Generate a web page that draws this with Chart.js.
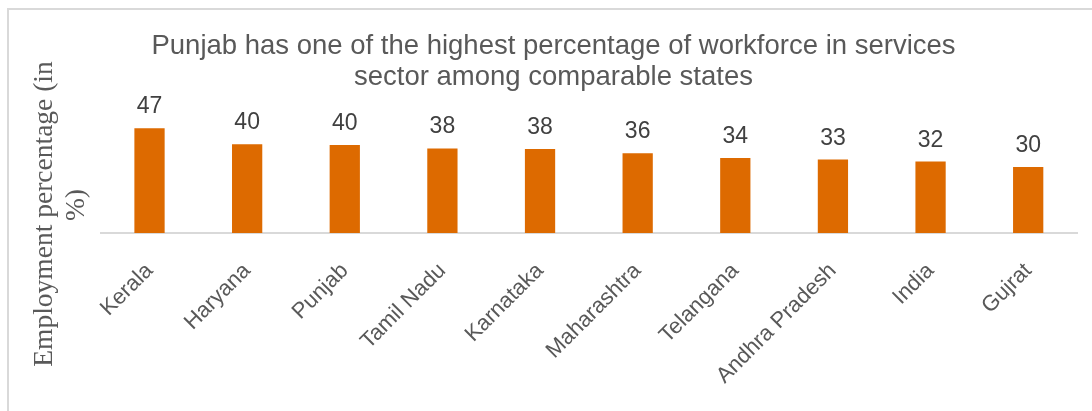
<!DOCTYPE html>
<html>
<head>
<meta charset="utf-8">
<script src="https://cdn.jsdelivr.net/npm/chart.js@4.4.1/dist/chart.umd.min.js"></script>
<style>
  html, body { margin: 0; padding: 0; background: #ffffff; }
  #frame { position: absolute; left: 7px; top: 8px; width: 2000px; height: 2000px;
           border-left: 2px solid #d9d9d9; border-top: 2px solid #d9d9d9; }
  #wrap { position: absolute; left: 0; top: 0; width: 1092px; height: 411px; }
</style>
</head>
<body>
<div id="frame"></div>
<div id="wrap"><canvas id="c" width="1092" height="411"></canvas></div>
<script>
const categories = ["Kerala", "Haryana", "Punjab", "Tamil Nadu", "Karnataka",
                    "Maharashtra", "Telangana", "Andhra Pradesh", "India", "Gujrat"];
const employmentPct = [47.0, 39.8, 39.5, 37.9, 37.6, 35.7, 33.6, 32.9, 32.0, 29.6];
const titleLines = ["Punjab has one of the highest percentage of workforce in services",
                    "sector among comparable states"];
const yTitleLines = ["Employment percentage (in", "%)"];

const valueLabels = {
  id: 'valueLabels',
  afterDatasetsDraw(chart) {
    const ctx = chart.ctx;
    const meta = chart.getDatasetMeta(0);
    ctx.save();
    ctx.font = "23px 'Liberation Sans', Arial, sans-serif";
    ctx.fillStyle = '#404040';
    ctx.textAlign = 'center';
    ctx.textBaseline = 'alphabetic';
    meta.data.forEach((bar, i) => {
      ctx.fillText(String(Math.round(employmentPct[i])), bar.x, bar.y - 15);
    });
    ctx.restore();
  }
};

const yTitle = {
  id: 'yTitle',
  afterDraw(chart) {
    const ctx = chart.ctx;
    ctx.save();
    ctx.font = "27.5px 'Liberation Serif', 'Times New Roman', serif";
    ctx.fillStyle = '#595959';
    ctx.textAlign = 'center';
    ctx.textBaseline = 'middle';
    ctx.translate(45, 214);
    ctx.rotate(-Math.PI / 2);
    ctx.fillText(yTitleLines[0], 0, 0);
    ctx.fillText(yTitleLines[1], 9, 32);
    ctx.restore();
  }
};

new Chart(document.getElementById('c'), {
  type: 'bar',
  data: {
    labels: categories,
    datasets: [{
      data: employmentPct,
      backgroundColor: '#dd6a00',
      borderWidth: 0,
      barPercentage: 0.62,
      categoryPercentage: 0.5
    }]
  },
  options: {
    responsive: false,
    animation: false,
    devicePixelRatio: 1,
    layout: { padding: { left: 30, right: 15, top: 8, bottom: 0 } },
    plugins: {
      legend: { display: false },
      tooltip: { enabled: false },
      title: {
        display: true,
        text: titleLines,
        color: '#595959',
        font: { family: "'Liberation Sans', Arial, sans-serif", size: 27.5, weight: 'normal', lineHeight: 1.13 },
        padding: { top: 22.5, bottom: 6.5 }
      }
    },
    scales: {
      x: {
        grid: { display: false, drawTicks: false },
        border: { display: true, color: '#d9d9d9', width: 2 },
        ticks: {
          color: '#595959',
          font: { family: "'Liberation Sans', Arial, sans-serif", size: 22 },
          minRotation: 45, maxRotation: 45,
          autoSkip: false,
          padding: 25
        },
        afterFit(scale) { scale.height = 178; }
      },
      y: {
        min: 0, max: 60,
        grid: { display: false, drawTicks: false },
        border: { display: false },
        ticks: { display: false },
        afterFit(scale) { scale.width = 70.7; }
      }
    }
  },
  plugins: [valueLabels, yTitle]
});
</script>
</body>
</html>
